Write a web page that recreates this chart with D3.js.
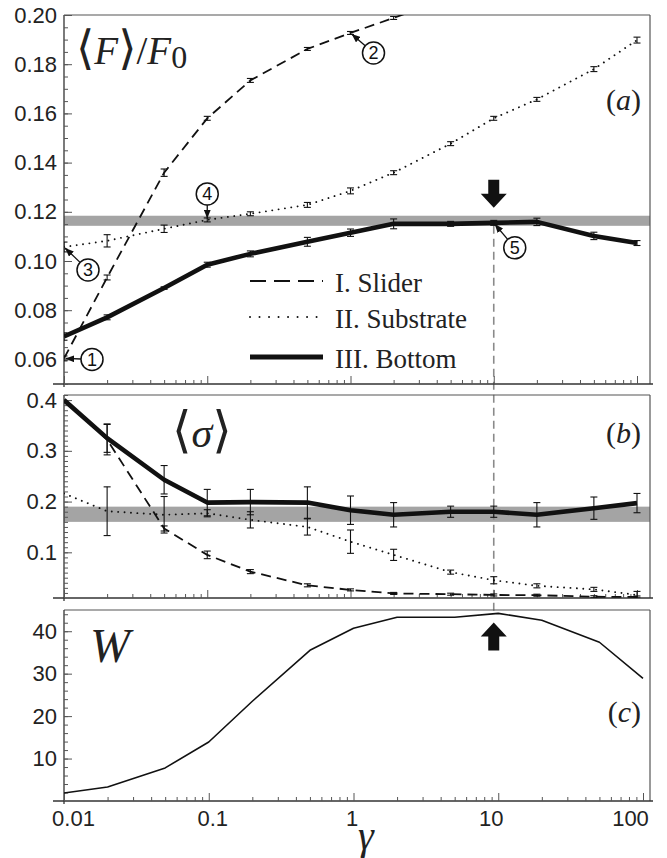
<!DOCTYPE html>
<html><head><meta charset="utf-8">
<script src="https://cdn.jsdelivr.net/npm/d3@7"></script>
<style>body{margin:0;background:#fff} svg{display:block}</style>
</head><body>
<svg id="chart" width="667" height="858"></svg>
<script>
// ---------------- data ----------------
const gamma = [0.01,0.02,0.05,0.1,0.2,0.5,1,2,5,10,20,50,100];

// panel (a): <F>/F0
const forceSlider      = [0.0604,0.0933,0.1359,0.1580,0.1734,0.1862,0.1927,0.1988,0.2073];
const forceSliderErr   = [0.0010,0.0010,0.0015,0.0008,0.0008,0.0006,0.0006,0.0006,0.0006];
const forceSubstrate   = [0.1057,0.1082,0.1131,0.1167,0.1192,0.1228,0.1285,0.1359,0.1477,0.1580,0.1657,0.1780,0.1898];
const forceSubstrateErr= [0.0020,0.0025,0.0015,0.0008,0.0008,0.0010,0.0012,0.0008,0.0008,0.0008,0.0008,0.0010,0.0012];
const forceBottom      = [0.0693,0.0771,0.0890,0.0985,0.1029,0.1078,0.1115,0.1151,0.1151,0.1155,0.1159,0.1102,0.1073];
const forceBottomErr   = [0.0015,0.0010,0.0005,0.0010,0.0012,0.0018,0.0015,0.0020,0.0010,0.0010,0.0015,0.0015,0.0010];
const forceBand        = [0.1143,0.1184];

// panel (b): <sigma>
const sigmaSlider      = [0.400,0.322,0.147,0.095,0.062,0.035,0.026,0.019,0.0175,0.016,0.0155,0.0125,0.012];
const sigmaSliderErr   = [0,0.030,0.005,0.0075,0.004,0.003,0.002,0.002,0.002,0.002,0.002,0.002,0.002];
const sigmaSubstrate   = [0.216,0.181,0.174,0.177,0.164,0.150,0.121,0.095,0.061,0.045,0.034,0.027,0.016];
const sigmaSubstrateErr= [0,0.048,0.036,0.007,0.016,0.016,0.023,0.011,0.004,0.007,0.004,0.004,0.007];
const sigmaBottom      = [0.400,0.325,0.243,0.198,0.199,0.198,0.183,0.174,0.180,0.180,0.174,0.187,0.197];
const sigmaBottomErr   = [0,0.028,0.028,0.026,0.025,0.031,0.028,0.024,0.011,0.011,0.024,0.022,0.019];
const sigmaBand        = [0.160,0.190];

// panel (c): W
const widthW = [1.9,3.3,7.8,13.9,23.5,35.5,40.7,43.3,43.3,44.2,42.6,37.4,28.9];

// ticks
const xTickLabels = ["0.01","0.1","1","10","100"];
const xMajor = [0.01,0.1,1,10,100];
const yTicksA = [0.06,0.08,0.10,0.12,0.14,0.16,0.18,0.20];
const yTicksB = [0.1,0.2,0.3,0.4];
const yTicksC = [10,20,30,40];
const legendNames = ["I. Slider","II. Substrate","III. Bottom"];
const highlightGamma = 10;

// ---------------- layout ----------------
const svg = d3.select("#chart");
const L = 64, R = 650;
const P = {
  a:{top:15, bottom:384},
  b:{top:395, bottom:598},
  c:{top:610, bottom:801}
};
const xa = d3.scaleLog().domain([0.01,100]).range([64,637]);
const xc = d3.scaleLog().domain([0.01,100]).range([64,643]);
const xLabel = d3.scaleLog().domain([0.01,100]).range([73,630]);
const ya = d3.scaleLinear().domain([0.05,0.20]).range([P.a.bottom,P.a.top]);
const yb = d3.scaleLinear().domain([0.01,0.41]).range([P.b.bottom,P.b.top]);
const yc = d3.scaleLinear().domain([0,45]).range([P.c.bottom,P.c.top]);

const axisColor = "#555";
const tickFont = "'Liberation Sans', Arial, Helvetica, sans-serif";
const mathFont = "'Liberation Serif', 'DejaVu Serif', 'Times New Roman', serif";
const brFont = "'DejaVu Sans', 'DejaVu Serif', serif";

const defs = svg.append("defs");
Object.entries(P).forEach(([k,p])=>{
  defs.append("clipPath").attr("id","clip-"+k).append("rect")
    .attr("x",L).attr("y",p.top).attr("width",R-L).attr("height",p.bottom-p.top);
});
defs.append("marker").attr("id","ah").attr("viewBox","0 0 10 8")
  .attr("refX",10).attr("refY",4).attr("markerWidth",9).attr("markerHeight",7)
  .attr("markerUnits","userSpaceOnUse").attr("orient","auto")
  .append("path").attr("d","M0,0 L10,4 L0,8 Z").attr("fill","#111");

const minorX = [];
[0.01,0.1,1,10].forEach(d=>{for(let k=2;k<=9;k++) minorX.push(+(d*k).toPrecision(3));});

function frame(key, x, y, yMajor, yMinor, fmt){
  const p = P[key];
  const g = svg.append("g");
  g.append("line").attr("x1",L).attr("x2",R).attr("y1",p.top).attr("y2",p.top)
    .attr("stroke",axisColor).attr("stroke-width",1.2);
  g.append("line").attr("x1",R).attr("x2",R).attr("y1",p.top).attr("y2",p.bottom)
    .attr("stroke",axisColor).attr("stroke-width",1.2);
  g.append("line").attr("x1",L).attr("x2",L).attr("y1",p.top).attr("y2",p.bottom+3)
    .attr("stroke","#333").attr("stroke-width",1.3);
  g.append("line").attr("x1",53).attr("x2",653).attr("y1",p.bottom).attr("y2",p.bottom)
    .attr("stroke","#333").attr("stroke-width",1.3);
  const ym = g.append("g").attr("transform",`translate(${L},0)`)
    .call(d3.axisLeft(y).tickValues(yMinor).tickSizeInner(-4).tickSizeOuter(0).tickFormat(""));
  ym.select(".domain").remove();
  ym.selectAll("line").attr("stroke",axisColor);
  const yM = g.append("g").attr("transform",`translate(${L},0)`)
    .call(d3.axisLeft(y).tickValues(yMajor).tickSizeInner(-8).tickSizeOuter(0).tickPadding(7).tickFormat(fmt));
  yM.select(".domain").remove();
  yM.selectAll("line").attr("stroke",axisColor);
  yM.selectAll("text").attr("font-family",tickFont).attr("font-size",22).attr("fill","#222");
  const xm = g.append("g").attr("transform",`translate(0,${p.bottom})`)
    .call(d3.axisBottom(x).tickValues(minorX).tickSizeInner(-4).tickSizeOuter(0).tickFormat(""));
  xm.select(".domain").remove();
  xm.selectAll("line").attr("stroke",axisColor);
  const xM = g.append("g").attr("transform",`translate(0,${p.bottom})`)
    .call(d3.axisBottom(x).tickValues(xMajor).tickSizeInner(-8).tickSizeOuter(0).tickFormat(""));
  xM.select(".domain").remove();
  xM.selectAll("line").attr("stroke",axisColor);
}

function band(key, y, vals){
  svg.append("rect").attr("x",L).attr("width",R-L)
    .attr("y",y(vals[1])).attr("height",y(vals[0])-y(vals[1]))
    .attr("fill","#a4a4a4").attr("clip-path",`url(#clip-${key})`);
}

const styles = {
  slider:{w:1.8, dash:"10,6", cap:"butt"},
  substrate:{w:1.9, dash:"0.01,6.4", cap:"round"},
  bottom:{w:4.6, dash:null, cap:"butt"}
};

function series(key, x, y, vals, errs, st){
  const g = svg.append("g").attr("clip-path",`url(#clip-${key})`);
  const pts = vals.map((v,i)=>[gamma[i],v,errs?errs[i]:0]);
  g.append("path").datum(pts)
    .attr("d",d3.line().x(d=>x(d[0])).y(d=>y(d[1])))
    .attr("fill","none").attr("stroke","#111").attr("stroke-width",st.w)
    .attr("stroke-dasharray",st.dash).attr("stroke-linecap",st.cap).attr("stroke-linejoin","round");
  if(errs){
    const eb = g.selectAll("g.eb").data(pts.filter(d=>d[2]>0)).enter().append("g")
      .attr("stroke","#111").attr("stroke-width",1.1);
    eb.append("line").attr("x1",d=>x(d[0])).attr("x2",d=>x(d[0]))
      .attr("y1",d=>y(d[1]-d[2])).attr("y2",d=>y(d[1]+d[2]));
    eb.append("line").attr("x1",d=>x(d[0])-3.5).attr("x2",d=>x(d[0])+3.5)
      .attr("y1",d=>y(d[1]-d[2])).attr("y2",d=>y(d[1]-d[2]));
    eb.append("line").attr("x1",d=>x(d[0])-3.5).attr("x2",d=>x(d[0])+3.5)
      .attr("y1",d=>y(d[1]+d[2])).attr("y2",d=>y(d[1]+d[2]));
  }
}

band("a", ya, forceBand);
band("b", yb, sigmaBand);

svg.append("line").attr("x1",xa(highlightGamma)).attr("x2",xa(highlightGamma))
  .attr("y1",ya(forceBottom[9])+3).attr("y2",P.c.top+3)
  .attr("stroke","#8a8a8a").attr("stroke-width",1.6).attr("stroke-dasharray","8,5");

frame("a", xa, ya, yTicksA, d3.range(0.05,0.2001,0.005).map(v=>+v.toFixed(3)), d3.format(".2f"));
frame("b", xa, yb, yTicksB, d3.range(0.02,0.4101,0.01).map(v=>+v.toFixed(2)), d3.format(".1f"));
frame("c", xc, yc, yTicksC, d3.range(2,45,2), d3.format("d"));

series("a", xa, ya, forceSlider, forceSliderErr, styles.slider);
series("a", xa, ya, forceSubstrate, forceSubstrateErr, styles.substrate);
series("a", xa, ya, forceBottom, forceBottomErr, styles.bottom);
series("b", xa, yb, sigmaSlider, sigmaSliderErr, styles.slider);
series("b", xa, yb, sigmaSubstrate, sigmaSubstrateErr, styles.substrate);
series("b", xa, yb, sigmaBottom, sigmaBottomErr, styles.bottom);
series("c", xc, yc, widthW, null, {w:1.6, dash:null, cap:"butt"});

const xl = svg.append("g").attr("transform",`translate(0,${P.c.bottom})`)
  .call(d3.axisBottom(xLabel).tickValues(xMajor).tickSize(0).tickPadding(9)
    .tickFormat((d,i)=>xTickLabels[i]));
xl.select(".domain").remove();
xl.selectAll("text").attr("font-family",tickFont).attr("font-size",22).attr("fill","#222");

function bigArrow(cx, tipY, dir){
  const hw = 13, sw = 5.5, hh = 14, sh = 14;
  const b = tipY - dir*hh;
  const s = b - dir*sh;
  const d = `M${cx},${tipY} L${cx-hw},${b} L${cx-sw},${b} L${cx-sw},${s} L${cx+sw},${s} L${cx+sw},${b} L${cx+hw},${b} Z`;
  svg.append("path").attr("d",d).attr("fill","#111");
}
bigArrow(xa(highlightGamma), ya(forceBand[1])-8, 1);
bigArrow(xa(highlightGamma), yc(widthW[9])+9, -1);

function note(num, tx, ty, dx, dy){
  const cx = tx+dx, cy = ty+dy, r = 11;
  const len = Math.hypot(dx,dy);
  const ux = -dx/len, uy = -dy/len;
  svg.append("line").attr("x1",cx+ux*r).attr("y1",cy+uy*r)
    .attr("x2",tx-ux*1.5).attr("y2",ty-uy*1.5)
    .attr("stroke","#111").attr("stroke-width",1.3).attr("marker-end","url(#ah)");
  svg.append("circle").attr("cx",cx).attr("cy",cy).attr("r",r)
    .attr("fill","none").attr("stroke","#111").attr("stroke-width",1.5);
  svg.append("text").attr("x",cx).attr("y",cy+6.5).attr("text-anchor","middle")
    .attr("font-family",tickFont).attr("font-size",18).attr("fill","#111").text(num);
}
note("1", xa(gamma[0]), ya(forceSlider[0]), 28, 1);
note("2", xa(gamma[6]), ya(forceSlider[6]), 23, 20);
note("3", xa(gamma[0]), ya(forceSubstrate[0]), 24, 23);
note("4", xa(gamma[3]), ya(forceSubstrate[3]), 0, -26);
note("5", xa(gamma[9]), ya(forceBottom[9]), 21, 25);

const legY = [281,317,357];
const legStyles = [
  {w:1.8, dash:"16,8", cap:"butt"},
  {w:2, dash:"0.01,9.5", cap:"round"},
  {w:5, dash:null, cap:"butt"}
];
legendNames.forEach((n,i)=>{
  svg.append("line").attr("x1",250).attr("x2",323).attr("y1",legY[i]).attr("y2",legY[i])
    .attr("stroke","#111").attr("stroke-width",legStyles[i].w)
    .attr("stroke-dasharray",legStyles[i].dash).attr("stroke-linecap",legStyles[i].cap);
  svg.append("text").attr("x",335).attr("y",legY[i]+11).attr("font-family",mathFont)
    .attr("font-size",27).attr("fill","#222").text(n);
});

function mathText(x, y, size, parts){
  const t = svg.append("text").attr("x",x).attr("y",y).attr("font-family",mathFont)
    .attr("font-size",size).attr("fill","#222");
  parts.forEach(p=>{
    const s = t.append("tspan").text(p.t);
    if(p.it) s.attr("font-style","italic");
    if(p.dy) s.attr("dy",p.dy);
    if(p.fs) s.attr("font-size",p.fs);
    if(p.ff) s.attr("font-family",p.ff);
    if(p.dx) s.attr("dx",p.dx);
    if(p.fw) s.attr("font-weight",p.fw);
  });
  return t;
}
mathText(76, 64, 39, [
  {t:"⟨", ff:brFont, fs:47, fw:200},{t:"F", it:true},{t:"⟩", ff:brFont, fs:47, fw:200},{t:"/"},
  {t:"F", it:true},{t:"0", fs:32, dy:4}
]);
mathText(172, 447, 42, [{t:"⟨", ff:brFont, fs:50, fw:200},{t:"σ", it:true},{t:"⟩", ff:brFont, fs:50, fw:200}]);
mathText(90, 662, 48, [{t:"W", it:true}]);
mathText(641, 110, 30, [{t:"("},{t:"a", it:true},{t:")"}]).attr("text-anchor","end");
mathText(641, 443, 30, [{t:"("},{t:"b", it:true},{t:")"}]).attr("text-anchor","end");
mathText(641, 722, 30, [{t:"("},{t:"c", it:true},{t:")"}]).attr("text-anchor","end");
mathText(366, 849, 40, [{t:"γ", it:true}]).attr("text-anchor","middle");
</script>
</body></html>
